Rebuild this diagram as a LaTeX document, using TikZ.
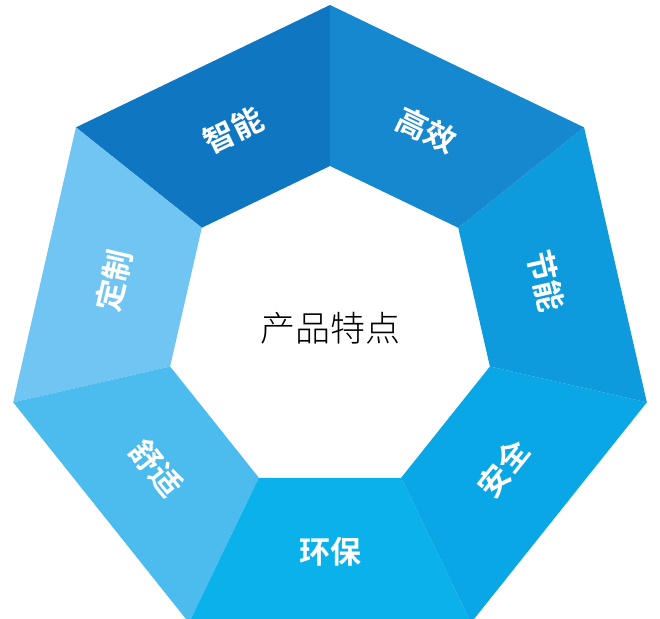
\documentclass[tikz,border=0pt]{standalone}
\usepackage{fontspec}
\usetikzlibrary{calc}
\newfontfamily\cjkb[BoldFont={* Bold}]{Noto Sans CJK SC}
\newfontfamily\cjkl{Noto Sans CJK SC Light}
\definecolor{c1}{HTML}{0F77C2}
\definecolor{c2}{HTML}{1688CF}
\definecolor{c3}{HTML}{0E9BDD}
\definecolor{c4}{HTML}{0AA7E6}
\definecolor{c5}{HTML}{0BB1EA}
\definecolor{c6}{HTML}{4CBCEF}
\definecolor{c7}{HTML}{70C5F2}
\tikzset{lab/.style={text=white,font=\cjkb\bfseries\fontsize{31}{31}\selectfont,inner sep=0pt}}
\begin{document}
\begin{tikzpicture}[x=1pt,y=-1pt]
\useasboundingbox (0,0) rectangle (660,618);
\fill[white] (0,0) rectangle (660,618);
\coordinate (O) at (330,330);
\foreach \k/\c/\t/\r in {0/c1/智能/25.7,1/c7/定制/77.1,2/c6/舒适/-51.4,3/c5/环保/0,4/c4/安全/51.4,5/c3/节能/-77.1,6/c2/高效/-25.7}{
  \pgfmathsetmacro\a{90+51.4286*\k}
  \pgfmathsetmacro\b{90+51.4286*(\k+1)}
  \pgfmathsetmacro\m{90+51.4286*(\k+0.5)}
  \fill[\c] ($(O)+(\a:325 and -325)$) -- ($(O)+(\b:325 and -325)$) -- ($(O)+(\b:164 and -164)$) -- ($(O)+(\a:164 and -164)$) -- cycle;
  \node[lab,rotate=\r] (l\k) at ($(O)+(\m:222 and -222)$) {\t};
}
\node[font=\cjkl\fontsize{35}{35}\selectfont] (center) at (330,328) {产品特点};
\end{tikzpicture}
\end{document}
